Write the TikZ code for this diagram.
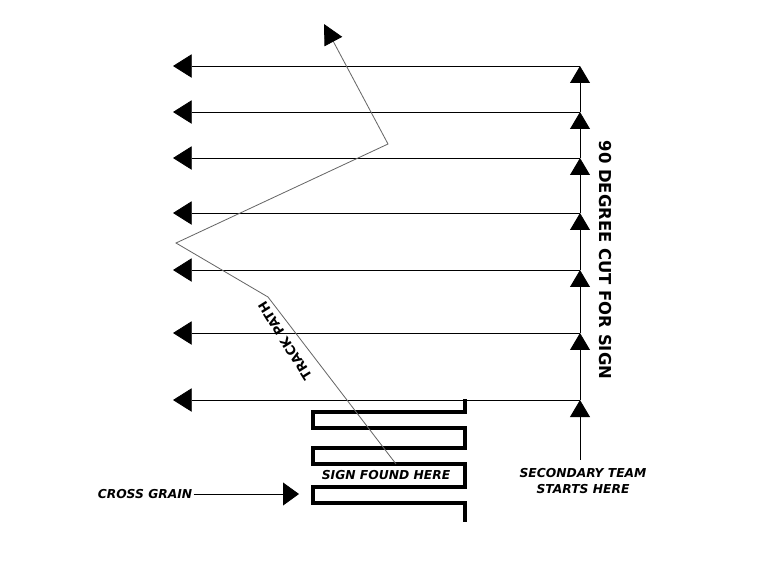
\documentclass[tikz,border=0pt]{standalone}
\usepackage{fontspec}
\setmainfont{DejaVu Sans}
\usetikzlibrary{arrows.meta}

\tikzset{
	row/.style={line width=0.7pt, -{Triangle[length=16pt,width=20pt]}},
	upcut/.style={line width=0.7pt, -{Triangle[length=14.5pt,width=17pt]}},
	track/.style={line width=0.7pt, draw=black!60, -{Triangle[length=17pt,width=17pt,color=black]}},
	maze/.style={line width=3.2pt, line join=miter},
	label/.style={font=\bfseries\itshape\fontsize{10.5}{13.6}\selectfont, inner sep=1pt, align=center}
}

\begin{document}
\begin{tikzpicture}[x=0.03cm,y=-0.03cm]
		
		\useasboundingbox (0,0) rectangle (768,576);
		
		% search rows
		\foreach \y [count=\i] in {66,112,158,213,270,333,400} {
			\coordinate (r\i) at (580,\y);
			\coordinate (l\i) at (173,\y);
			\draw[row] (r\i) -- (l\i);
		}
		
		\node[label] (team) at (583,481) {SECONDARY TEAM\\STARTS HERE};
		\coordinate (start) at (580,460);
		\draw[upcut] (start) -- (r7);
		\foreach \i/\j in {7/6,6/5,5/4,4/3,3/2,2/1}
			\draw[upcut] (r\i) -- (r\j);
		
		\node[font=\bfseries\fontsize{14}{16}\selectfont, rotate=-90] (cut) at (605,260) {90 DEGREE CUT FOR SIGN};
		
		% cross grain
		\draw[maze] (465,399) -- (465,412) -- (313,412) -- (313,428) -- (465,428)
			-- (465,448) -- (313,448) -- (313,464) -- (465,464) -- (465,487)
			-- (313,487) -- (313,503) -- (465,503) -- (465,522);
		
		\node[label] (sign) at (386,475) {SIGN FOUND HERE};
		\node[label] (grain) at (145,494) {CROSS GRAIN};
		\coordinate (grainend) at (299,494);
		\draw[line width=0.7pt, -{Triangle[length=13.6pt,width=19.5pt]}] (grain) -- (grainend);
		
		% track
		\coordinate (found) at (396,464);
		\coordinate (t1) at (268,297);
		\coordinate (t2) at (176,243);
		\coordinate (t3) at (388,144);
		\coordinate (t4) at (324,24);
		\draw[track] (found) -- (t1) -- (t2) -- (t3) -- (t4);
		\node[font=\bfseries\fontsize{11}{13}\selectfont, rotate=122, inner sep=0pt] (trackname) at (285,341) {TRACK PATH};
		
	\end{tikzpicture}
\end{document}
